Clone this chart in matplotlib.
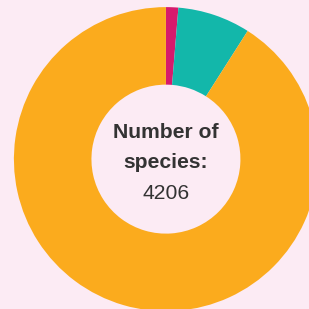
import matplotlib.pyplot as plt

# species per group, clockwise from the top
groups = ['Group A', 'Group B', 'Group C']
species = [55, 325, 3826]
colors = ['#d61a6c', '#13b7aa', '#fbab1d']
total = 4206

bg = '#fcebf4'

fig = plt.figure(figsize=(3.09, 3.09), dpi=100, facecolor=bg)
ax = fig.add_axes([0.045, -0.007, 0.984, 0.984])
ax.set_facecolor(bg)

ax.pie(species, colors=colors, startangle=90, counterclock=False,
       radius=1, wedgeprops=dict(width=0.51, linewidth=0))
ax.set_xlim(-1, 1)
ax.set_ylim(-1, 1)
ax.set_aspect('equal')
ax.axis('off')

font = ['Liberation Sans', 'DejaVu Sans']
ax.text(0, 0.136, 'Number of', ha='center', va='baseline', fontsize=15.2,
        fontweight='bold', color='#333333', family=font)
ax.text(0, -0.061, 'species:', ha='center', va='baseline', fontsize=15.2,
        fontweight='bold', color='#333333', family=font)
ax.text(0, -0.259, str(total), ha='center', va='baseline', fontsize=15.2,
        color='#333333', family=font)

fig.savefig('out.png', dpi=100, facecolor=bg)
